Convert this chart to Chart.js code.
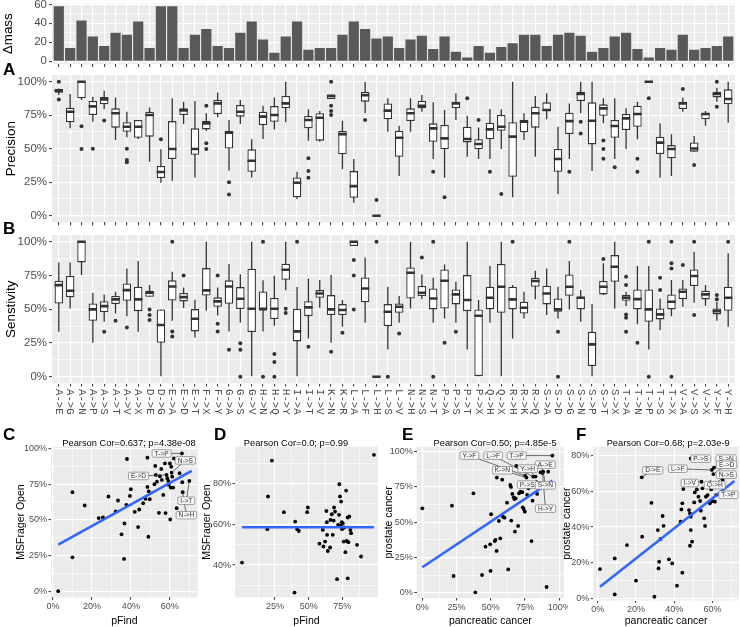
<!DOCTYPE html>
<html>
<head>
<meta charset="utf-8">
<title>Mutation benchmark</title>
<script src="https://cdn.jsdelivr.net/npm/chart.js@4.4.1/dist/chart.umd.min.js"></script>
<style>
  html, body { margin: 0; padding: 0; background: #fff; }
  body { position: relative; width: 740px; height: 627px; overflow: hidden; }
  canvas { position: absolute; }
  .tag { position: absolute; font: bold 17px/17px "Liberation Sans", Arial, sans-serif; color: #000; }
</style>
</head>
<body>
<canvas id="massChart" width="740" height="68" style="left:0;top:0"></canvas>
<canvas id="precChart" width="740" height="162" style="left:0;top:64px"></canvas>
<canvas id="sensChart" width="740" height="212" style="left:0;top:228px"></canvas>
<canvas id="chartC" width="205" height="202" style="left:0;top:425px"></canvas>
<canvas id="chartD" width="185" height="202" style="left:200px;top:425px"></canvas>
<canvas id="chartE" width="185" height="202" style="left:383px;top:425px"></canvas>
<canvas id="chartF" width="179" height="202" style="left:561px;top:425px"></canvas>
<div class="tag" style="left:3px;top:61px">A</div>
<div class="tag" style="left:3px;top:220px">B</div>
<div class="tag" style="left:3px;top:426px">C</div>
<div class="tag" style="left:214px;top:426px">D</div>
<div class="tag" style="left:402px;top:426px">E</div>
<div class="tag" style="left:576px;top:426px">F</div>
<script>
// ---- data ----
const mutations = ['A->E','A->G','A->N','A->P','A->S','A->T','A->V','A->X','D->E','D->G',
  'E->A','E->D','E->T','F->X','F->Y','G->A','G->S','G->V','H->N','H->Q',
  'H->Y','I->A','I->T','I->V','K->N','K->R','L->A','L->F','L->H','L->S',
  'L->V','N->H','N->S','N->T','P->A','P->S','P->T','P->X','Q->H','Q->X',
  'R->H','R->K','R->Q','S->A','S->D','S->G','S->N','S->P','S->T','S->X',
  'T->A','T->N','T->P','T->S','T->X','V->A','V->S','V->X','Y->F','Y->H'];

const deltaMass = [58,14,43,26,16,30,28,42,14,58, 58,14,28,34,16,14,30,42,23,9,
  26,42,12,14,14,28,42,34,24,26, 14,23,27,13,26,10,4,16,9,15,
  19,28,28,16,28,30,27,10,14,26, 30,13,4,14,12,28,12,14,16,26];

// precision boxplots (whisker low, Q1, median, Q3, whisker high, outliers)
const precLow = [90,65.2,86.3,70.1,79.4,56.5,58.5,57.2,40.3,24.6, 26.1,68.4,28.6,63.2,73.4,33.6,68.4,28.6,57.2,64.4,
  69.7,12.4,56,55.2,87.1,34.6,9.7,76.4,0,62.7, 29.6,62.7,77.6,42.3,28.4,71.4,44,42.3,42.3,49.8,
  13.7,56.5,44,71.9,16.2,42.3,76.4,33.3,68.9,42.3, 49.8,57,100,28.4,29.6,77.6,47.8,67.2,85.1,69.4];
const precQ1 = [91.8,69.7,87.6,75.1,83.1,65.7,62.7,58.2,59,28.1, 42.3,75.1,45.5,64.4,75.9,50.2,73.9,32.8,67.7,70.1,
  80.1,13.7,65.2,56,87.1,45.8,13.4,85.1,0,71.9, 44,70.6,80.1,55.2,49.5,80.1,54.7,49.5,57,63.4,
  29.1,62.2,65.7,78.1,32.8,60.9,85.6,53.2,74.6,58.2, 63.9,66.4,100,46,42.8,79.6,47.8,71.9,88.3,83.1];
const precMedian = [93.3,77.6,100,81.6,86.8,76.4,66.4,66.4,75.1,32.6, 49.8,78.6,49.8,68.9,83.8,61.9,77.6,41,73.9,75.1,
  83.8,24.6,71.4,73.1,89.3,60.9,22.1,90,0,78.4, 58.2,76.4,82.1,65.2,57.7,83.8,57.2,53.5,64.4,66.4,
  59,70.1,76.4,78.9,42.3,70.6,90.8,70.9,80.1,66.9, 72.6,75.9,100,54.5,49.8,83.8,50.2,75.9,90.8,87.1];
const precQ3 = [94.5,80.6,100,85.6,88.6,80.1,69.7,71.4,77.6,37.1, 70.6,80.1,65.2,70.6,86.3,63.2,82.6,49.5,77.6,81.8,
  89.3,28.6,74.4,76.4,90.5,63.2,33.3,92.5,0,83.8, 63.4,80.1,85.8,68.9,67.7,85.1,66.4,57,69.4,75.1,
  69.7,71.4,81.3,84.6,49.8,76.9,92.5,84.6,83.1,71.4, 75.9,82.1,100,59,52.7,85.1,54.7,76.4,92.5,94.3];
const precHigh = [95,90.8,100,88.8,93.3,88.3,77.6,71.4,80.8,49.5, 87.6,85.1,85.6,76.4,92,71.4,86.3,57,82.1,88.3,
  100,32.8,79.4,78.1,90.5,70.9,42.3,100,0,87.6, 67.2,87.6,90,84.6,78.9,91.3,74.6,65.9,79.6,79.4,
  100,76.4,89.3,91.3,66.4,83.8,100,100,87.6,87.6, 80.1,85.1,100,68.9,60.7,88.3,59.5,78.1,95.5,100];
const precOutliers = [[100,86.8],[],[66.7,49.8],[50],[71.1],[],[50,41.5,39.8],[],[],[57],
  [],[],[],[82.1,54,49.8],[],[24.9,15.9],[],[],[],[],
  [],[],[42.8,33.3,28.4],[],[100,82.1,78.1,75.1],[],[],[71.4],[11.7],[],
  [],[],[],[32.8],[13.7],[],[87.6],[71.4],[32.8],[16.2],
  [],[],[],[],[],[32.8],[70.1,61.4],[],[56.2,49.8,42.5],[36.1],
  [],[42.5,32.8],[87.6],[],[],[94.5],[37.8],[],[100,81.3],[]];

// sensitivity boxplots
const sensLow = [33.3,50.6,75.3,25.2,40.7,46.9,44.9,33.3,59.3,0, 41.5,50.9,29.1,48.9,45.4,33.6,40.2,0,33.6,37.8,
  64,0,28.4,51.1,25.2,37,96.8,40,0,20.2, 40,50.6,57.5,40,43.2,40,20.2,0,40,0,
  28.4,43.2,57.5,45.7,43.2,49.9,40.7,0,60.5,50.6, 52.3,38.8,20.2,34.6,44.9,51.9,54.8,52.6,41.5,37];
const sensQ1 = [54.3,58.8,84.7,41.5,47.7,53.8,56.3,48.6,59.3,25.2, 56.5,55.8,33.6,60.2,51.9,54.1,50.1,33.1,48.9,42.7,
  71.9,26.2,44.9,58.5,45.7,45.7,96.8,55.1,0,37.5, 47.4,58,59.8,49.9,50.6,53.6,48.6,0,49.9,47.4,
  49.9,46.9,66.7,53.6,48.1,60,49.9,7.9,61,70.4, 56.3,49.9,40.7,42.5,49.9,57.5,67.2,57.3,46.2,48.9];
const sensMedian = [67.9,63.7,100,49.9,52.3,57.3,64.2,57.3,62.2,38.3, 66.9,59,43,64,55.8,66.9,57.8,50.4,50.4,50.4,
  79.3,33.6,51.4,61.7,49.9,49.4,100,65.4,0,48.1, 51.9,77,62.2,58,71.1,61,56.8,45.2,58.5,66.7,
  57.3,51.1,70.9,61.7,49.9,66.7,58.5,24,66.7,81.5, 58.5,57.5,49.9,46.2,55.6,63,74.6,61,48.6,58.5];
const sensQ3 = [71.1,74.6,100,54.3,56,59.8,69.1,66.7,63.7,49.9, 71.4,62,50.1,80.5,58.8,71.4,66.4,80,63.2,58.3,
  83.7,50.4,56,64.2,60.5,53.8,100,73.6,0,53.8, 54.3,81,67.2,65.4,79.5,64.7,75.3,49.9,66.7,83.5,
  66.7,55.6,73.3,67.4,58,75.8,59.3,33.3,70.9,90.1, 60.5,64.7,64.7,50.6,61,65.4,79.5,63.7,50.6,66.7];
const sensHigh = [84.7,84.7,100,62.2,61,63,80.2,85.7,67.9,49.9, 77.8,66.2,57,100,66.2,83.5,76,100,71.4,74.8,
  100,66.4,72.8,71.6,75.3,56.8,100,88.4,0,66.7, 59.8,100,75.8,73.3,83.2,70.4,100,56.8,82,100,
  67.9,63,78.5,80.2,66.7,85.7,64.2,53.8,84,100, 63,82,82,58,71.6,71.6,92.6,67.9,55.6,91.4];
const sensOutliers = [[],[],[],[],[33.3],[41.5],[36.5],[],[49.9,45.7,42],[],
  [100,33.6,29.9],[75],[],[],[75,39.3,33.6],[20],[24.9,20,0],[],[100,0],[16.8,10.9,0],
  [50.4,47.2],[100],[22.2],[],[18.5],[32.6],[86.4,75,49.9],[],[100],[0],
  [32.1],[],[88.4],[100,0],[25.2],[33.3],[],[],[],[],
  [100],[],[],[],[33.3,0],[100],[],[],[87.2],[],
  [74,67.9,46.2,43.7,33.3],[25.2],[100,0],[73.3,64.2],[100,84,80.2,0],[82.7],[100,45.7],[],[60.5,57.5],[100]];

// C: pFind vs MSFragger open precision
const pfindC = [2.7,10,10,16.3,23.5,25.7,28.5,32.2,33.4,35.2, 36.5,36.7,37.7,38,39.5,40,42,43.7,44.3,46.3,
  47.5,48.5,48.5,49.2,49,49.7,52.1,52.5,52.8,53.4, 54.4,54.9,55.6,55.9,56.6,57.5,57.8,58.3,58.7,59.2,
  59.5,60,60.2,60.5,60.7,60.9,61.2,61.7,62.1,63.5, 65,66.4,66.6,66.2,70];
const msfraggerC = [0,69.3,23.7,60,51.2,51.6,66.3,55.8,63.5,39.8, 22.6,47.4,60.5,92.6,66.7,71.4,55.6,44.9,57.2,61.6,
  64.7,93.5,73,69.8,38.1,64.4,74.9,87.7,81.4,76.7, 54.9,80.5,85.6,77.9,67.4,89.5,54.7,81.4,79.1,77.2,
  74.4,89.5,50.2,72.6,87.2,83,80.2,72.6,93,58.1, 82.6,76.3,69.3,96.5,77.2];
const fitC = [[2.7, 32.6], [71.2, 84.2]];

// D: pFind vs MSFragger open sensitivity
const pfindD = [0.5,19.3,19.8,22.7,31.6,39.5,40,41.5,42.7,48.9, 49.4,58,60.5,61,62.2,63.5,63.2,63.7,64.2,65.9,
  66.2,67.2,67.9,68.6,68.9,69.6,71.1,71.9,72.6,72.8, 73.3,74.1,74.6,74.8,75.3,76,77.3,77.8,78.3,79,
  79.5,80.2,81,81.5,79,74,76.5,85.9,88.9,98.5];
const msfraggerD = [41.2,57.6,73.6,91.2,65.9,26.5,61.3,57.6,56.7,65.9, 68.2,50.5,57.2,49.1,51.5,61,66.5,54.8,46.9,48.6,
  62.1,64.9,54.8,61.8,68.2,66.2,33.1,59.7,64.6,79.6, 73.6,71.1,61,57.6,60.5,51.5,46.3,76.5,51.8,33.5,
  51.2,63.8,57.2,55.6,63.3,59.3,58.4,49.9,44.2,94];
const fitD = [[0.5, 58.5], [98.5, 58.5]];

// E: pancreatic vs prostate cancer
const pancreaticE = [0,21.6,22.8,37.3,38.7,43.6,46.1,49.5,50.2,49.8, 52.9,53.4,54.4,54.2,55.9,56.9,58.3,58.8,60,61.8,
  62.7,64.2,64.7,64.9,65.7,66.7,67.2,67.6,68.6,68.1, 69.9,70.6,71.6,73,73.3,74,74.8,75,76,76.5,
  77.5,79.7,80.4,80.9,82.6,83.8,86.3,87.7,88.2,90.7, 91.9,94.9,83.3];
const prostateE = [59.8,61.7,11.8,70.4,0.2,12.5,32.6,34.3,55.6,15.4, 36.6,37.4,81.6,29.6,50.8,38.5,80.1,53.9,53.2,63.8,
  16.5,76.4,75,51.1,70,67.6,66.4,43.3,89.8,66.9, 47.3,70.4,71.6,71.2,60.5,59.3,57.4,83,81.6,69.3,
  74,36.6,65.2,82.3,82.3,70,85.3,84.9,85.8,4, 85.8,97.2,78.3];
const fitE = [[0, 18], [94.9, 79.4]];

// F: pancreatic vs prostate cancer (second measure)
const pancreaticF = [1.2,8.9,8.9,15.3,20,23,23.2,28.1,29.6,31.8, 31.4,32.1,32.8,33.9,34.4,37.2,38.9,41.4,43.3,44.2,
  43.7,44.2,44.7,47.7,48.2,48.6,48.2,48.6,49.3,50.4, 50.7,51.8,52.6,53.5,53.9,54.2,54.7,55.6,56.1,56.5,
  57.4,58.6,58.9,59.3,59.6,59.8,60.4,60.7,60.9,61.2, 61.8,62.6,65.3,48.6];
const prostateF = [16.4,2.2,22.4,29.9,9.9,67.9,34.6,53.6,0.9,16.8, 38.3,20.6,33.3,46.2,40.7,21.9,19.6,7.1,43,14.4,
  49.9,53.3,61.3,49.5,47.7,45.8,29.5,38.3,31.8,53.8, 59.4,61.1,57,54.6,49.2,65.4,61.7,44.9,40.6,57,
  57.9,53.3,65,61.1,72,54.6,69.7,73.3,63.6,54.2, 57.9,64.5,66.4,78.5];
const fitF = [[1.2, 6.5], [71.4, 65.8]];

const corrTitles = ['Pearson Cor=0.637; p=4.38e-08', 'Pearson Cor=0.0; p=0.99',
  'Pearson Cor=0.50; p=4.85e-5', 'Pearson Cor=0.68; p=2.03e-9'];

// labelled points (text and the point they belong to)
const labelTextC = ['T->P', 'N->S', 'E->D', 'I->T', 'N->H'];
const labelXC = [66.2, 60.9, 58.3, 70, 66.6];
const labelYC = [96.5, 83, 81.4, 77.2, 69.3];
const labelTextE = ['Y->F', 'L->F', 'T->P', 'A->E', 'Y->H', 'K->N', 'P->S', 'S->N', 'H->Y'];
const labelXE = [75, 80.9, 94.9, 86.3, 82.6, 76, 77.5, 88.2, 87.7];
const labelYE = [83, 82.3, 97.2, 85.3, 82.3, 81.6, 74, 85.8, 84.9];
const labelTextF = ['P->S', 'S->N', 'E->D', 'D->E', 'L->F', 'N->S', 'I->V', 'Q->H', 'T->P'];
const labelXF = [48.6, 60.7, 60.4, 23, 59.6, 60.9, 54.2, 58.9, 61.8];
const labelYF = [78.5, 73.3, 69.7, 67.9, 72, 63.6, 65.4, 65, 57.9];

// ---- drawing ----
Chart.defaults.font.family = '"Liberation Sans", Arial, Helvetica, sans-serif';
Chart.defaults.plugins.legend.display = false;
Chart.defaults.plugins.tooltip.enabled = false;
Chart.defaults.layout.autoPadding = false; // plot areas are placed by hand

// grey ggplot-like panel
const panelBg = {
  id: 'panelBg',
  beforeDraw(chart) {
    const a = chart.chartArea, c = chart.ctx;
    c.save();
    c.fillStyle = '#EBEBEB';
    c.fillRect(a.left, a.top, a.right - a.left, a.bottom - a.top);
    c.restore();
  }
};

// title above the panel
const panelTitle = {
  id: 'panelTitle',
  afterDraw(chart, args, o) {
    if (!o.text) return;
    const a = chart.chartArea, c = chart.ctx;
    c.save();
    c.font = o.size + 'px "Liberation Sans", Arial, sans-serif';
    c.fillStyle = '#000';
    c.textAlign = 'center';
    c.textBaseline = 'alphabetic';
    c.fillText(o.text, (a.left + a.right) / 2 + o.shift, a.top - 1);
    c.restore();
  }
};

// category names under panel B, read top to bottom
const rotLabels = {
  id: 'rotLabels',
  afterDraw(chart, args, o) {
    if (!o.labels) return;
    const c = chart.ctx, x = chart.scales.x, bottom = chart.chartArea.bottom;
    c.save();
    c.font = o.size + 'px "Liberation Mono", "Courier New", monospace';
    c.fillStyle = '#4D4D4D';
    c.textAlign = 'left';
    c.textBaseline = 'middle';
    o.labels.forEach((t, i) => {
      c.save();
      c.translate(x.getPixelForValue(i), bottom + o.gap);
      c.rotate(Math.PI / 2);
      c.fillText(t, 0, 0);
      c.restore();
    });
    c.restore();
  }
};

// ggrepel-style boxed labels
const repel = {
  id: 'repel',
  afterDatasetsDraw(chart, args, o) {
    if (!o.text) return;
    const c = chart.ctx, x = chart.scales.x, y = chart.scales.y;
    const items = o.text.map((t, i) => {
      const px = x.getPixelForValue(o.xs[i]), py = y.getPixelForValue(o.ys[i]);
      return { t, px, py, lx: px + o.dx[i], ly: py + o.dy[i] };
    });
    c.save();
    c.strokeStyle = '#333';
    c.lineWidth = 0.7;
    items.forEach(p => { c.beginPath(); c.moveTo(p.px, p.py); c.lineTo(p.lx, p.ly); c.stroke(); });
    c.font = '6.6px "Liberation Sans", Arial, sans-serif';
    c.textAlign = 'center';
    c.textBaseline = 'middle';
    items.forEach(p => {
      const w = c.measureText(p.t).width + 5, h = 7.6;
      c.beginPath();
      c.roundRect(p.lx - w / 2, p.ly - h / 2, w, h, 1.5);
      c.fillStyle = '#F7F7F7';
      c.fill();
      c.strokeStyle = '#666';
      c.lineWidth = 0.6;
      c.stroke();
      c.fillStyle = '#333';
      c.fillText(p.t, p.lx, p.ly + 0.3);
    });
    c.restore();
  }
};

Chart.register(panelBg, panelTitle, rotLabels, repel);

function axis(o) {
  const minors = o.minors || [];
  const all = o.majors.concat(minors).sort((a, b) => a - b);
  const horiz = o.position === 'bottom';
  return {
    type: 'linear', position: o.position, min: o.min, max: o.max, bounds: 'data', offset: false,
    afterBuildTicks: ax => { ax.ticks = all.map(v => ({ value: v })); },
    afterFit: ax => {
      if (horiz) ax.height = o.size; else ax.width = o.size;
      // the plot area is placed by hand, so the end labels may overhang it
      ax.paddingTop = 0; ax.paddingBottom = 0; ax.paddingLeft = 0; ax.paddingRight = 0;
    },
    border: { display: false },
    grid: {
      offset: false,
      color: '#FFFFFF',
      lineWidth: c => (c.tick && minors.includes(c.tick.value)) ? 0.6 : 1.2,
      tickColor: c => (c.tick && minors.includes(c.tick.value)) ? 'rgba(0,0,0,0)' : '#333333',
      tickWidth: 1,
      tickLength: o.tickLength || 3
    },
    ticks: {
      display: o.showLabels !== false,
      autoSkip: false, minRotation: 0, maxRotation: 0,
      color: '#4D4D4D',
      font: { size: o.fontSize || 11.5 },
      padding: o.pad == null ? 2 : o.pad,
      callback: v => minors.includes(v) ? '' : (o.suffix ? v + o.suffix : String(v))
    },
    title: o.title
      ? { display: true, text: o.title, color: '#000000', font: { size: o.titleSize }, padding: { top: o.titlePad, bottom: o.titlePad } }
      : { display: false }
  };
}

const idx = mutations.map((_, i) => i);
const pctMajors = [0, 25, 50, 75, 100];
const pctMinors = [12.5, 37.5, 62.5, 87.5];

new Chart(document.getElementById('massChart'), {
  type: 'scatter',
  data: {
    datasets: [{
      type: 'bar',
      data: idx.map(i => ({ x: i, y: deltaMass[i] })),
      backgroundColor: '#595959',
      barPercentage: 0.9, categoryPercentage: 1, inflateAmount: 0
    }]
  },
  options: {
    responsive: false, animation: false, events: [],
    layout: { padding: { top: 3.5, right: 5, left: 0, bottom: 0 } },
    scales: {
      x: axis({ position: 'bottom', min: -0.6, max: 59.6, majors: idx, size: 4, showLabels: false }),
      y: axis({ position: 'left', min: -2.9, max: 60.9, majors: [0, 20, 40, 60], minors: [10, 30, 50],
        size: 52, title: 'Δmass', titleSize: 13.4, titlePad: 0 })
    }
  }
});

function boxPanel(id, stats, outliers, cfg) {
  const [lo, q1, med, q3, hi] = stats;
  const outPts = [];
  outliers.forEach((vals, i) => vals.forEach(v => outPts.push({ x: i, y: v })));
  return new Chart(document.getElementById(id), {
    type: 'scatter',
    data: {
      datasets: [
        { type: 'bar', data: idx.map(i => ({ x: i, y: [lo[i], hi[i]] })), backgroundColor: '#333333',
          barThickness: 1.3, grouped: false, inflateAmount: 0, order: 4 },
        { type: 'bar', data: idx.map(i => ({ x: i, y: [q1[i], q3[i]] })), backgroundColor: '#FFFFFF',
          borderColor: '#333333', borderWidth: 1.3, borderSkipped: false,
          barPercentage: 0.75, categoryPercentage: 1, grouped: false, inflateAmount: 0, order: 3 },
        { data: idx.map(i => ({ x: i, y: med[i] })), pointStyle: 'line', pointRadius: 4.2,
          pointBorderWidth: 2.6, pointBorderColor: '#333333', order: 2 },
        { data: outPts, pointRadius: 2, pointBackgroundColor: '#333333', pointBorderWidth: 0, order: 1 }
      ]
    },
    options: {
      responsive: false, animation: false, events: [],
      layout: { padding: { top: cfg.top, right: 5, left: 0, bottom: 0 } },
      scales: {
        x: axis({ position: 'bottom', min: -0.6, max: 59.6, majors: idx, size: cfg.xSize, showLabels: false }),
        y: axis({ position: 'left', min: -5, max: 105, majors: pctMajors, minors: pctMinors, suffix: '%',
          size: 52, title: cfg.title, titleSize: 13.4, titlePad: 3 })
      },
      plugins: { rotLabels: cfg.rot || {} }
    }
  });
}

boxPanel('precChart', [precLow, precQ1, precMedian, precQ3, precHigh], precOutliers,
  { top: 11, xSize: 3.6, title: 'Precision' });
boxPanel('sensChart', [sensLow, sensQ1, sensMedian, sensQ3, sensHigh], sensOutliers,
  { top: 7, xSize: 56.5, title: 'Senstivity', rot: { labels: mutations, gap: 5.5, size: 10.7 } });

function scatterPanel(id, xs, ys, fit, cfg) {
  return new Chart(document.getElementById(id), {
    type: 'scatter',
    data: {
      datasets: [
        { data: fit.map(f => ({ x: f[0], y: f[1] })), showLine: true, borderColor: '#3366FF',
          borderWidth: 2.6, pointRadius: 0, order: 1 },
        { data: xs.map((v, i) => ({ x: v, y: ys[i] })), pointRadius: 1.9,
          pointBackgroundColor: '#000000', pointBorderWidth: 0, order: 2 }
      ]
    },
    options: {
      responsive: false, animation: false, events: [],
      layout: { padding: { top: 21.7, right: cfg.right, left: 0, bottom: 0 } },
      scales: {
        x: axis(Object.assign({ position: 'bottom', suffix: '%', fontSize: 9, tickLength: 2.5, pad: 1.5,
          titleSize: 10.5, titlePad: 0 }, cfg.x)),
        y: axis(Object.assign({ position: 'left', suffix: '%', fontSize: 9, tickLength: 2.5, pad: 1.5,
          titleSize: 10.5 }, cfg.y))
      },
      plugins: {
        panelTitle: { text: cfg.title, size: 9.3, shift: cfg.shift },
        repel: cfg.labels || {}
      }
    }
  });
}

scatterPanel('chartC', pfindC, msfraggerC, fitC, {
  right: 7.3, title: corrTitles[0], shift: 4.6,
  x: { min: -1, max: 74.3, majors: [0, 20, 40, 60], minors: [10, 30, 50, 70], size: 29.7, title: 'pFind' },
  y: { min: -4.3, max: 101.2, majors: pctMajors, minors: pctMinors, size: 51, title: 'MSFrager Open', titlePad: 14.5 },
  labels: { text: labelTextC, xs: labelXC, ys: labelYC,
    dx: [-20.3, 13.7, -28, -3, 3.7], dy: [0, -12.3, 1, 19.7, 23] }
});

scatterPanel('chartD', pfindD, msfraggerD, fitD, {
  right: 7, title: corrTitles[1], shift: -10.5,
  x: { min: -4.7, max: 101.5, majors: [25, 50, 75], minors: [12.5, 37.5, 62.5, 87.5], size: 29.7, title: 'pFind' },
  y: { min: 24.2, max: 98, majors: [40, 60, 80], minors: [30, 50, 70, 90], size: 35, title: 'MSFrager Open', titlePad: 1.2 }
});

scatterPanel('chartE', pancreaticE, prostateE, fitE, {
  right: 4, title: corrTitles[2], shift: 4.7,
  x: { min: -4.1, max: 103.4, majors: pctMajors, minors: pctMinors, size: 29, title: 'pancreatic cancer' },
  y: { min: -3.8, max: 103.5, majors: pctMajors, minors: pctMinors, size: 33.7, title: 'prostate cancer', titlePad: 0 },
  labels: { text: labelTextE, xs: labelXE, ys: labelYE,
    dx: [-55.7, -40, -35.7, 4.7, -7.7, -24, -1.3, 2.3, 3], dy: [-20, -21, 0, -7.7, -8, -7.3, -3.7, 13.7, 35.7] }
});

scatterPanel('chartF', pancreaticF, prostateF, fitF, {
  right: 1, title: corrTitles[3], shift: 2,
  x: { min: -2.3, max: 73.8, majors: [0, 20, 40, 60], minors: [10, 30, 50, 70], size: 26.5, title: 'pancreatic cancer' },
  y: { min: -1.2, max: 85.05, majors: [0, 20, 40, 60, 80], minors: [10, 30, 50, 70], size: 32.3, title: 'prostate cancer', titlePad: 0 },
  labels: { text: labelTextF, xs: labelXF, ys: labelYF,
    dx: [10, 12.3, 13.3, 11, -34, 12, -11.7, 4.3, 12.3], dy: [0.3, -9, -9.3, -7, -1.3, -10.3, 1.3, 2.7, -0.3] }
});
</script>
</body>
</html>
